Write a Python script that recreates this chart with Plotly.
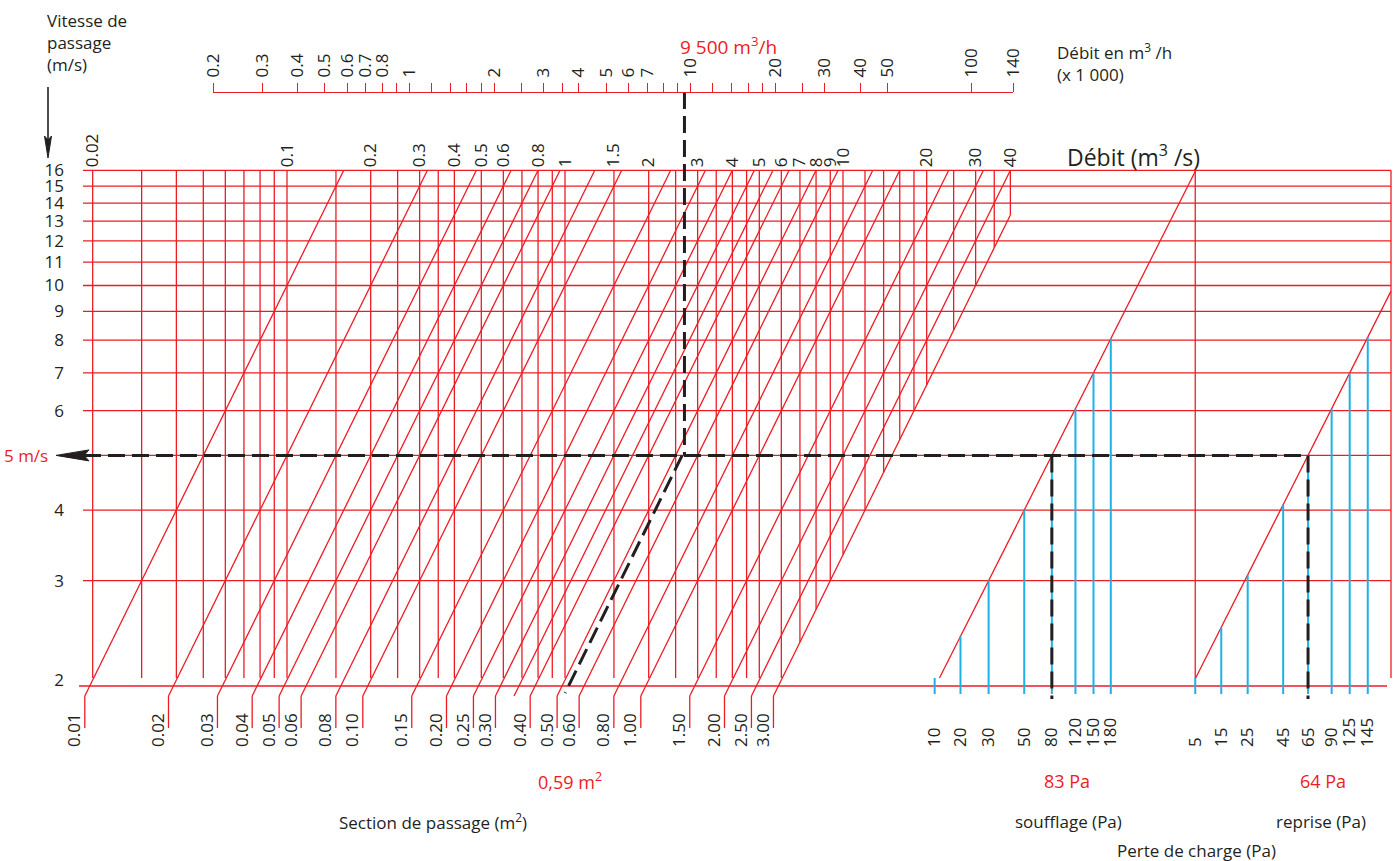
import math
import plotly.graph_objects as go

# ---------------- data ----------------
velocity_lines = [3, 4, 5, 6, 7, 8, 9, 10, 11, 12, 13, 14, 15, 16]             # m/s
velocity_ticks = [2, 3, 4, 6, 7, 8, 9, 10, 11, 12, 13, 14, 15, 16]
debit_lines = [0.02, 0.03, 0.04, 0.05, 0.06, 0.07, 0.08, 0.09, 0.1, 0.15, 0.2, 0.25,
               0.3, 0.35, 0.4, 0.5, 0.6, 0.7, 0.8, 0.9, 1, 1.5, 2, 2.5, 3, 3.5, 4, 4.5,
               5, 6, 7, 8, 9, 10, 12, 14, 16, 18, 20, 25, 30, 35, 40]          # m3/s
debit_ticks = [0.02, 0.1, 0.2, 0.3, 0.4, 0.5, 0.6, 0.8, 1, 1.5, 2, 3, 4, 5, 6, 7, 8, 9,
               10, 20, 30, 40]
sections = [0.01, 0.02, 0.03, 0.04, 0.05, 0.06, 0.08, 0.10, 0.15, 0.20, 0.25, 0.30,
            0.35, 0.40, 0.50, 0.60, 0.80, 1.00, 1.50, 2.00, 2.50, 3.00]        # m2
section_ticks = [0.01, 0.02, 0.03, 0.04, 0.05, 0.06, 0.08, 0.10, 0.15, 0.20, 0.25, 0.30,
                 0.40, 0.50, 0.60, 0.80, 1.00, 1.50, 2.00, 2.50, 3.00]
debit_h_ticks = [0.2, 0.3, 0.4, 0.5, 0.6, 0.7, 0.8, 1, 2, 3, 4, 5, 6, 7, 10, 20, 30,
                 40, 50, 100, 140]                                               # x1000 m3/h
debit_h_minor = [0.9, 1.2, 1.4, 1.6, 1.8, 2.5, 3.5, 8, 9, 12, 14, 16, 18, 25]
souff_pa = [10, 20, 30, 50, 80, 120, 150, 180]
souff_v = [1.94, 2.39, 3.0, 4.0, 5.0, 6.05, 7.0, 8.05]
rep_pa = [5, 15, 25, 45, 65, 90, 125, 145]
rep_v = [2.01, 2.48, 3.07, 4.09, 5.0, 6.05, 7.0, 8.1]
ex_debit_h = 9.5        # x1000 m3/h
ex_v = 5                # m/s
ex_section_text = "0,59 m<sup>2</sup>"
ex_souff_text = "83 Pa"
ex_rep_text = "64 Pa"
q_max = 40
v_max = 16

# ---------------- layout calibration ----------------
W, H = 1395, 861
RED = "#ed1c24"
BLUE = "#1db1e6"
INK = "#231f20"
FONT = "Open Sans"
QX0, QXB = 565.0, 278.0        # px of Q=1 m3/s, px per decade
VY2, VYB = 680.0, 564.4        # px of v=2 m/s, px per decade
PV0, PB = 2.014, 285.0         # pressure scales: reference velocity, px per decade
PX_S, PX_R = 939.3, 1195.5     # px of PV0 on soufflage / reprise scales
L2 = math.log10(2)


def xp(px):
    return px / W


def yp(py):
    return 1 - py / H


def v_at(py):
    return 10 ** (L2 + (VY2 - py) / VYB)


def v_px(v):
    return VY2 - VYB * (math.log10(v) - L2)


def r_px(v):
    return PX_R + PB * math.log10(v / PV0)


V_GRID_LO = v_at(678)
V_DIAG_LO = v_at(696)
V_STUB_LO = v_at(728)
V_TICK_LO = v_at(694)
V_DASH_LO = v_at(699)
V_EXD_LO = v_at(693)
V_SCALE = v_at(92)
V_REP_HI = PV0 * 10 ** ((1391 - PX_R) / PB)
BASE_PX = 686


def segments(pairs):
    xs, ys = [], []
    for (x0, y0), (x1, y1) in pairs:
        xs += [x0, x1, None]
        ys += [y0, y1, None]
    return xs, ys


fig = go.Figure()


def add_lines(pairs, color, width, xaxis="x", dash=None):
    xs, ys = segments(pairs)
    fig.add_trace(go.Scatter(x=xs, y=ys, mode="lines", xaxis=xaxis, yaxis="y",
                             line=dict(color=color, width=width, dash=dash),
                             hoverinfo="skip", showlegend=False))


s_max = max(sections)
# débit verticals
add_lines([((q, max(V_GRID_LO, q / s_max)), (q, v_max)) for q in debit_lines], RED, 1.3)
# section diagonals  v = Q / S
add_lines([((s * V_DIAG_LO, V_DIAG_LO), (s * min(v_max, q_max / s), min(v_max, q_max / s)))
           for s in sections], RED, 1.3)
# stubs under the diagonals
add_lines([((s * V_DIAG_LO, V_DIAG_LO), (s * V_DIAG_LO, V_STUB_LO)) for s in section_ticks],
          RED, 1.3)
# pressure loss diagonals
add_lines([((V_GRID_LO, V_GRID_LO), (v_max, v_max))], RED, 1.3, "x3")
add_lines([((V_GRID_LO, V_GRID_LO), (V_REP_HI, V_REP_HI))], RED, 1.3, "x4")
# blue pressure ticks
add_lines([((v, V_TICK_LO), (v, max(v, V_GRID_LO))) for v in souff_v], BLUE, 2, "x3")
add_lines([((v, V_TICK_LO), (v, max(v, V_GRID_LO))) for v in rep_v], BLUE, 2, "x4")

# example (dashed black)
DASH = "17px,7px"
ex_q = ex_debit_h * 1000 / 3600
ex_s = ex_q / ex_v
add_lines([((ex_debit_h, V_SCALE), (ex_debit_h, ex_v))], INK, 3, "x2", DASH)
add_lines([((ex_s * ex_v, ex_v), (ex_s * V_EXD_LO, V_EXD_LO))], INK, 3, "x", DASH)
add_lines([((ex_v, ex_v), (ex_v, V_DASH_LO))], INK, 3, "x3", DASH)
add_lines([((ex_v, ex_v), (ex_v, V_DASH_LO))], INK, 3, "x4", DASH)

shapes = []
for v in velocity_lines:
    shapes.append(dict(type="line", xref="paper", yref="y", x0=xp(83), x1=xp(1391), y0=v, y1=v,
                       line=dict(color=RED, width=1.3), layer="below"))
shapes.append(dict(type="line", xref="paper", yref="paper", x0=xp(79), x1=xp(1387),
                   y0=yp(BASE_PX), y1=yp(BASE_PX), line=dict(color=RED, width=1.3),
                   layer="below"))
shapes.append(dict(type="line", xref="x4", yref="y", x0=rep_v[0], x1=rep_v[0],
                   y0=V_GRID_LO, y1=v_max, line=dict(color=RED, width=1.3), layer="below"))
shapes.append(dict(type="line", xref="paper", yref="y", x0=xp(1391), x1=xp(1391),
                   y0=V_GRID_LO, y1=v_max, line=dict(color=RED, width=1.3), layer="below"))
shapes.append(dict(type="line", xref="paper", yref="y", x0=xp(84), x1=xp(r_px(ex_v)),
                   y0=ex_v, y1=ex_v, line=dict(color=INK, width=3, dash=DASH)))


def ppath(points):
    return "M " + " L ".join(f"{xp(a):.5f},{yp(b):.5f}" for a, b in points) + " Z"


y5 = v_px(ex_v)
shapes.append(dict(type="path", xref="paper", yref="paper",
                   path=ppath([(56, y5), (89, y5 - 5.5), (84, y5), (89, y5 + 5.5)]),
                   fillcolor=INK, line=dict(color=INK, width=1)))
shapes.append(dict(type="line", xref="paper", yref="paper", x0=xp(48), x1=xp(48),
                   y0=yp(87), y1=yp(145), line=dict(color=INK, width=1.6)))
shapes.append(dict(type="path", xref="paper", yref="paper",
                   path=ppath([(48, 158), (44.5, 136), (48, 140), (51.5, 136)]),
                   fillcolor=INK, line=dict(color=INK, width=1)))

tf = dict(family=FONT, size=17, color=INK)
ann = []


def text(t, x, y, xanchor="center", yanchor="middle", size=17, color=INK, xref="paper",
         yref="paper", xshift=0, align="center"):
    ann.append(dict(text=t, x=x, y=y, xref=xref, yref=yref, xanchor=xanchor, yanchor=yanchor,
                    showarrow=False, xshift=xshift, align=align,
                    font=dict(family=FONT, size=size, color=color)))


text("Vitesse de<br>passage<br>(m/s)", xp(45), yp(7), "left", "top", align="left")
text("5 m/s", xp(50), math.log10(ex_v), "right", "middle", 17, RED, yref="y")
text("9 500 m<sup>3</sup>/h", math.log10(ex_debit_h), yp(46), "left", "middle", 19, RED,
     xref="x2", xshift=-6)
text("Débit en m<sup>3</sup> /h<br>(x 1 000)", xp(1055), yp(63), "left", "middle", align="left")
text("Débit (m<sup>3</sup> /s)", xp(1065), yp(156), "left", "middle", 23)
text(ex_section_text, math.log10(ex_s * V_DIAG_LO), yp(781), size=18, color=RED, xref="x",
     xshift=6)
text(ex_souff_text, math.log10(ex_v), yp(781), size=18, color=RED, xref="x3", xshift=15)
text(ex_rep_text, math.log10(ex_v), yp(781), size=18, color=RED, xref="x4", xshift=15)
text("Section de passage (m<sup>2</sup>)", xp(433), yp(821))
text("soufflage (Pa)", xp(1068), yp(821))
text("reprise (Pa)", xp(1321), yp(821))
text("Perte de charge (Pa)", xp(1196), yp(850))

hidden = dict(showgrid=False, zeroline=False, showline=False, ticks="", fixedrange=True,
              automargin=False)
xr_main = [-QX0 / QXB, (W - QX0) / QXB]
lp = math.log10(PV0)

fig.update_layout(
    width=W, height=H, autosize=False,
    margin=dict(l=0, r=0, t=0, b=0, pad=0, autoexpand=False),
    paper_bgcolor="white", plot_bgcolor="rgba(0,0,0,0)",
    showlegend=False,
    font=dict(family=FONT, color=INK),
    shapes=shapes, annotations=ann,
    xaxis=dict(hidden, type="log", range=xr_main, domain=[0, 1], anchor="free",
               position=yp(v_px(v_max)), side="top", tickmode="array", tickvals=debit_ticks,
               ticktext=[f"{q:g}" for q in debit_ticks], tickangle=-90, tickfont=tf,
               ticklabelstandoff=3),
    xaxis2=dict(type="log", range=[math.log10(0.2), math.log10(140)], automargin=False,
                domain=[xp(213), xp(1013)], anchor="free", position=yp(92), side="top",
                showgrid=False, zeroline=False, showline=True, linecolor=RED, linewidth=1.3,
                ticks="outside", ticklen=9, tickwidth=1.3, tickcolor=RED, fixedrange=True,
                tickmode="array", tickvals=debit_h_ticks,
                ticktext=[f"{q:g}" for q in debit_h_ticks],
                minor=dict(tickmode="array", tickvals=debit_h_minor, ticks="outside",
                           ticklen=9, tickwidth=1.3, tickcolor=RED, showgrid=False),
                tickangle=-90, tickfont=tf, ticklabelstandoff=2),
    xaxis3=dict(hidden, type="log", overlaying="x", anchor="free", position=yp(747),
                side="top", range=[lp - PX_S / PB, lp + (W - PX_S) / PB],
                tickmode="array", tickvals=souff_v, ticktext=[str(p) for p in souff_pa],
                tickangle=-90, tickfont=tf, ticklabelstandoff=0),
    xaxis4=dict(hidden, type="log", overlaying="x", anchor="free", position=yp(747),
                side="top", range=[lp - PX_R / PB, lp + (W - PX_R) / PB],
                tickmode="array", tickvals=rep_v, ticktext=[str(p) for p in rep_pa],
                tickangle=-90, tickfont=tf, ticklabelstandoff=0),
    xaxis5=dict(hidden, type="log", overlaying="x", anchor="free", position=yp(747),
                side="top", range=xr_main, tickmode="array",
                tickvals=[s * V_DIAG_LO for s in section_ticks],
                ticktext=[f"{s:.2f}" for s in section_ticks],
                tickangle=-90, tickfont=tf, ticklabelstandoff=0, ticklabelshift=-10),
    yaxis=dict(hidden, type="log", domain=[0, 1], anchor="free", position=xp(64), side="left",
               range=[L2 - (H - VY2) / VYB, L2 + VY2 / VYB], tickmode="array",
               tickvals=velocity_ticks, ticktext=[str(v) for v in velocity_ticks],
               tickfont=tf, ticklabelstandoff=0),
)

# empty trace so that xaxis5 is rendered
fig.add_trace(go.Scatter(x=[None], y=[None], xaxis="x5", yaxis="y", showlegend=False,
                         hoverinfo="skip"))

fig.write_html("out.html", config={"displayModeBar": False},
               post_script="document.body.style.margin='0';")
